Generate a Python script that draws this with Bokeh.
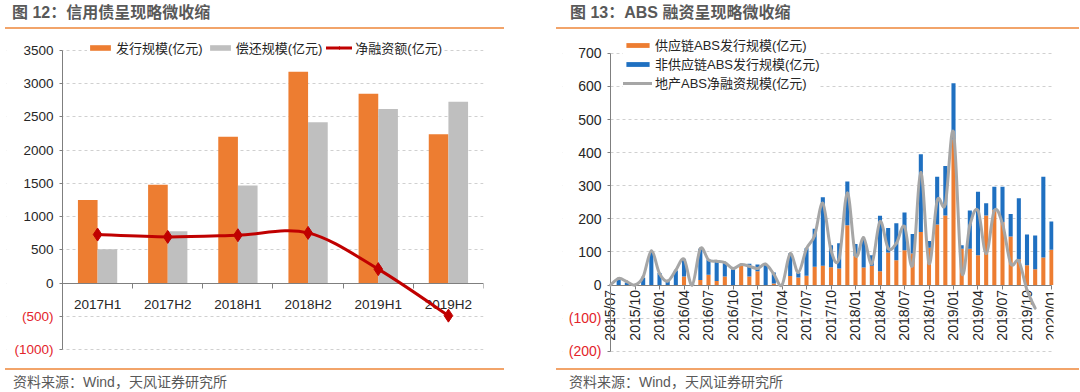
import math
from bokeh.plotting import figure
from bokeh.models import (FixedTicker, LinearAxis, Legend, LegendItem, Div, Range1d,
                          ColumnDataSource, BoxAnnotation)
from bokeh.layouts import row, column
from bokeh.transform import dodge
from bokeh.embed import file_html
from bokeh.resources import INLINE

# ---------------- data: left chart (credit bonds) ----------------
periods = ["2017H1", "2017H2", "2018H1", "2018H2", "2019H1", "2019H2"]
issue = [1250, 1480, 2200, 3180, 2850, 2240]      # 发行规模
repay = [510, 780, 1470, 2420, 2620, 2730]        # 偿还规模
net = [730, 695, 720, 755, 210, -490]             # 净融资额
left_ticks_pos = [0, 500, 1000, 1500, 2000, 2500, 3000, 3500]
left_ticks_neg = [-500, -1000]
left_neg_labels = ["(500)", "(1000)"]

# ---------------- data: right chart (ABS) ----------------
months = ["2015/07", "2015/08", "2015/09", "2015/10", "2015/11", "2015/12",
          "2016/01", "2016/02", "2016/03", "2016/04", "2016/05", "2016/06",
          "2016/07", "2016/08", "2016/09", "2016/10", "2016/11", "2016/12",
          "2017/01", "2017/02", "2017/03", "2017/04", "2017/05", "2017/06",
          "2017/07", "2017/08", "2017/09", "2017/10", "2017/11", "2017/12",
          "2018/01", "2018/02", "2018/03", "2018/04", "2018/05", "2018/06",
          "2018/07", "2018/08", "2018/09", "2018/10", "2018/11", "2018/12",
          "2019/01", "2019/02", "2019/03", "2019/04", "2019/05", "2019/06",
          "2019/07", "2019/08", "2019/09", "2019/10", "2019/11", "2019/12",
          "2020/01"]
supply_chain = [0, 0, 0, 0, 0, 0, 0, 0, 0, 26, 0, 15, 31, 12, 26, 0, 59, 26, 42, 0,
                5, 0, 27, 23, 28, 55, 58, 54, 50, 181, 88, 53, 58, 42, 98, 75, 105, 95,
                160, 113, 183, 210, 440, 110, 110, 90, 210, 227, 190, 147, 78, 60, 48,
                83, 107]
non_supply_chain = [0, 17, 8, 2, 22, 100, 36, 14, 44, 53, 3, 95, 46, 60, 43, 48, 3, 38,
                    20, 62, 33, 0, 68, 13, 83, 115, 207, 66, 76, 132, 36, 86, 32, 167, 74,
                    112, 114, 59, 235, 20, 144, 150, 170, 10, 115, 192, 37, 70, 107, 68,
                    184, 93, 102, 244, 85]
land_net = [0, 20, 10, 0, 25, 103, 35, 12, 45, 78, 0, 110, 76, 72, 68, 50, 62, 57, 50,
            63, 33, 0, 95, 38, 110, 150, 247, 105, 80, 278, 90, 143, 65, 192, 111, 126,
            177, 60, 340, 65, 255, 245, 462, 40, 180, 225, 95, 225, 185, 65, 72, -15, -70]
month_tick_labels = ["2015/07", "2015/10", "2016/01", "2016/04", "2016/07", "2016/10",
                     "2017/01", "2017/04", "2017/07", "2017/10", "2018/01", "2018/04",
                     "2018/07", "2018/10", "2019/01", "2019/04", "2019/07", "2019/10",
                     "2020/01"]
right_ticks_pos = [0, 100, 200, 300, 400, 500, 600, 700]
right_ticks_neg = [-100, -200]
right_neg_labels = ["(100)", "(200)"]

# ---------------- styles ----------------
ORANGE = "#ED7D31"
GRAY_BAR = "#BFBFBF"
RED = "#C00000"
BLUE = "#1F70C1"
GRAY_LINE = "#A6A6A6"
NEG_RED = "#E3242B"
AXIS = "#7F7F7F"
TXT = "#262626"
SEP = "#F2A46A"
TICK_FONT = "Liberation Sans"
MIX_FONT = "Liberation Sans, Noto Sans CJK SC"


def smooth(xs, ys):
    """Catmull-Rom style cubic bezier segments through the data points."""
    n = len(xs)
    out = dict(x0=[], y0=[], x1=[], y1=[], cx0=[], cy0=[], cx1=[], cy1=[])
    for k in range(n - 1):
        a = max(k - 1, 0)
        d = min(k + 2, n - 1)
        out["x0"].append(xs[k]); out["y0"].append(ys[k])
        out["x1"].append(xs[k + 1]); out["y1"].append(ys[k + 1])
        out["cx0"].append(xs[k] + (xs[k + 1] - xs[a]) / 6.0)
        out["cy0"].append(ys[k] + (ys[k + 1] - ys[a]) / 6.0)
        out["cx1"].append(xs[k + 1] - (xs[d] - xs[k]) / 6.0)
        out["cy1"].append(ys[k + 1] - (ys[d] - ys[k]) / 6.0)
    return ColumnDataSource(out)


def style_common(p, data_left):
    p.outline_line_color = None
    p.background_fill_color = "white"
    p.border_fill_color = "white"
    p.xgrid.visible = False
    p.ygrid.grid_line_color = "#D0D0D0"
    p.ygrid.grid_line_dash = "3 3"
    p.ygrid.grid_line_width = 1
    # keep the tick-label strip (inside the frame) free of grid lines
    p.add_layout(BoxAnnotation(right=data_left, fill_color="white", fill_alpha=1,
                               line_color=None, level="underlay"))


def style_yaxis(ax, ticks, labels, loc, bounds, color, size, line):
    ax.ticker = FixedTicker(ticks=ticks)
    if labels is not None:
        ax.major_label_overrides = {t: l for t, l in zip(ticks, labels)}
    ax.fixed_location = loc
    ax.bounds = bounds
    ax.axis_line_color = AXIS if line else None
    ax.major_tick_line_color = AXIS
    ax.major_tick_out = 3
    ax.major_tick_in = 0
    ax.minor_tick_line_color = None
    ax.major_label_standoff = 6
    ax.major_label_text_font = TICK_FONT
    ax.major_label_text_font_size = size
    ax.major_label_text_color = color


def style_legend(leg, gw, gh, spacing):
    leg.background_fill_color = "white"
    leg.background_fill_alpha = 1
    leg.border_line_color = None
    leg.padding = 2
    leg.margin = 0
    leg.spacing = spacing
    leg.glyph_width = gw
    leg.glyph_height = gh
    leg.label_standoff = 3
    leg.label_height = 14
    leg.label_text_font = MIX_FONT
    leg.label_text_font_size = "13px"
    leg.label_text_color = TXT


def title_div(text, offset, width, pad):
    html = ('<div style="margin-left:%dpx;width:%dpx;height:24px;border-bottom:2px solid %s;'
            'padding-left:%dpx;box-sizing:border-box;font-family:\'Liberation Sans\',\'Noto Sans CJK SC\';'
            'font-weight:bold;font-size:16px;line-height:16px;color:#595959;white-space:nowrap;">%s</div>'
            % (offset, width, SEP, pad, text))
    return Div(text=html, width=532, height=26)


def footer_div(text, offset, width, pad):
    html = ('<div style="margin-left:%dpx;width:%dpx;height:23px;border-top:2px solid %s;'
            'padding-top:5px;padding-left:%dpx;box-sizing:border-box;font-family:\'Liberation Sans\',\'Noto Sans CJK SC\';'
            'font-size:14px;line-height:15px;color:#595959;white-space:nowrap;">%s</div>'
            % (offset, width, SEP, pad, text))
    return Div(text=html, width=532, height=23)


# ================= left figure =================
n1 = len(periods)
L_START = -1.298   # frame extends left of the data so the tick labels sit inside it
p1 = figure(width=532, height=327, x_range=Range1d(L_START, n1 - 0.5),
            y_range=Range1d(-1120, 3650),
            output_backend="svg", toolbar_location=None, title=None,
            min_border_left=6, min_border_right=49, min_border_top=4, min_border_bottom=6)
style_common(p1, -0.5)
p1.ygrid.ticker = FixedTicker(ticks=left_ticks_neg + left_ticks_pos)

src1 = ColumnDataSource(dict(x=list(range(n1)), issue=issue, repay=repay, net=net))
r_issue = p1.vbar(x=dodge("x", -0.14), top="issue", width=0.28, source=src1,
                  fill_color=ORANGE, line_color=None)
r_repay = p1.vbar(x=dodge("x", 0.14), top="repay", width=0.28, source=src1,
                  fill_color=GRAY_BAR, line_color=None)
r_net_line = p1.bezier(source=smooth(list(range(n1)), net), x0="x0", y0="y0",
                       x1="x1", y1="y1", cx0="cx0", cy0="cy0", cx1="cx1", cy1="cy1",
                       line_color=RED, line_width=3, line_cap="round", level="overlay")
r_net_pts = p1.scatter(x="x", y="net", source=src1, marker="diamond", size=13,
                       fill_color=RED, line_color=RED, level="overlay")

xa = p1.xaxis[0]
xa.ticker = FixedTicker(ticks=list(range(n1)),
                        minor_ticks=[k - 0.5 for k in range(n1 + 1)])
xa.major_label_overrides = {i: lbl for i, lbl in enumerate(periods)}
xa.fixed_location = 0
xa.bounds = (-0.5, n1 - 0.5)
xa.axis_line_color = AXIS
xa.major_tick_line_color = None
xa.major_tick_out = 0
xa.major_tick_in = 0
xa.minor_tick_line_color = AXIS
xa.minor_tick_out = 5
xa.minor_tick_in = 0
xa.major_label_standoff = 9
xa.major_label_text_font = TICK_FONT
xa.major_label_text_font_size = "13.5px"
xa.major_label_text_color = TXT

style_yaxis(p1.yaxis[0], left_ticks_pos, None, -0.5, (-1000, 3500), TXT, "13.5px", True)
ya1n = LinearAxis()
style_yaxis(ya1n, left_ticks_neg, left_neg_labels, -0.5, (-1000, 3500), NEG_RED, "13.5px", False)
p1.add_layout(ya1n, "left")

leg1 = Legend(items=[LegendItem(label="发行规模(亿元)", renderers=[r_issue]),
                     LegendItem(label="偿还规模(亿元)", renderers=[r_repay]),
                     LegendItem(label="净融资额(亿元)", renderers=[r_net_line, r_net_pts])],
              location=(81, 300), orientation="horizontal")
style_legend(leg1, 26, 7, 4)
p1.add_layout(leg1)

# ================= right figure =================
n2 = len(months)
R_START = -5.878
p2 = figure(width=532, height=327, x_range=Range1d(R_START, 54.245), y_range=Range1d(-225, 751),
            output_backend="svg", toolbar_location=None, title=None,
            min_border_left=20, min_border_right=21, min_border_top=0, min_border_bottom=4)
style_common(p2, 0)
p2.ygrid.ticker = FixedTicker(ticks=right_ticks_neg + right_ticks_pos)

src2 = ColumnDataSource(dict(x=list(range(n2)), sc=supply_chain, nsc=non_supply_chain))
bars = p2.vbar_stack(["sc", "nsc"], x="x", width=0.5, source=src2,
                     fill_color=[ORANGE, BLUE], line_color=None)
r_land = p2.bezier(source=smooth(list(range(len(land_net))), land_net), x0="x0", y0="y0",
                   x1="x1", y1="y1", cx0="cx0", cy0="cy0", cx1="cx1", cy1="cy1",
                   line_color=GRAY_LINE, line_width=3, line_cap="round", level="overlay")

xa2 = p2.xaxis[0]
xa2.ticker = FixedTicker(ticks=[months.index(m) for m in month_tick_labels])
xa2.major_label_overrides = {months.index(m): m for m in month_tick_labels}
xa2.fixed_location = 0
xa2.bounds = (0, n2 - 1)
xa2.axis_line_color = AXIS
xa2.major_tick_line_color = AXIS
xa2.major_tick_out = 4
xa2.major_tick_in = 0
xa2.minor_tick_line_color = None
xa2.major_label_orientation = math.pi / 2
xa2.major_label_standoff = 1
xa2.major_label_text_font = TICK_FONT
xa2.major_label_text_font_size = "14px"
xa2.major_label_text_color = TXT

style_yaxis(p2.yaxis[0], right_ticks_pos, None, 0, (-200, 700), TXT, "14px", True)
ya2n = LinearAxis()
style_yaxis(ya2n, right_ticks_neg, right_neg_labels, 0, (-200, 700), NEG_RED, "14px", False)
p2.add_layout(ya2n, "left")

leg2 = Legend(items=[LegendItem(label="供应链ABS发行规模(亿元)", renderers=[bars[0]]),
                     LegendItem(label="非供应链ABS发行规模(亿元)", renderers=[bars[1]]),
                     LegendItem(label="地产ABS净融资规模(亿元)", renderers=[r_land])],
              location=(61, 267), orientation="vertical")
style_legend(leg2, 29, 6, -2)
p2.add_layout(leg2)

# ================= page =================
left = column(title_div("图 12：信用债呈现略微收缩", 0, 499, 7), p1,
              footer_div("资料来源：Wind，天风证券研究所", 0, 499, 8))
right = column(title_div("图 13：ABS 融资呈现略微收缩", 9, 523, 14), p2,
               footer_div("资料来源：Wind，天风证券研究所", 9, 523, 13))
page = row(left, right)

open("out.html", "w").write(file_html(page, INLINE))
